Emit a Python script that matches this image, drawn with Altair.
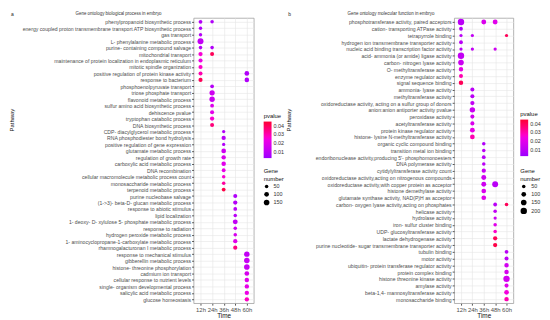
import altair as alt
import pandas as pd

times = ["12h", "24h", "36h", "48h", "60h"]

# ---------------- panel a: biological process ----------------
bp_pathways = [
    "phenylpropanoid biosynthetic process",
    "energy coupled proton transmembrane transport ATP biosynthetic process",
    "gas transport",
    "L- phenylalanine metabolic process",
    "purine- containing compound salvage",
    "mitochondrial transport",
    "maintenance of protein localization in endoplasmic reticulum",
    "mitotic spindle organization",
    "positive regulation of protein kinase activity",
    "response to bacterium",
    "phosphoenolpyruvate transport",
    "triose phosphate transport",
    "flavonoid metabolic process",
    "sulfur amino acid biosynthetic process",
    "dehiscence pvalue",
    "tryptophan catabolic process",
    "DNA biosynthetic process",
    "CDP- diacylglycerol metabolic process",
    "RNA phosphodiester bond hydrolysis",
    "positive regulation of gene expression",
    "glutamate metabolic process",
    "regulation of growth rate",
    "carboxylic acid metabolic process",
    "DNA recombination",
    "cellular macromolecule metabolic process count",
    "monosaccharide metabolic process",
    "terpenoid metabolic process",
    "purine nucleobase salvage",
    "(1->3)- beta-D- glucan metabolic process",
    "response to abiotic stimulus",
    "lipid localization",
    "1- deoxy- D- xylulose 5- phosphate metabolic process",
    "response to radiation",
    "hydrogen peroxide metabolic process",
    "1- aminocyclopropane-1-carboxylate metabolic process",
    "rhamnogalacturonan I metabolic process",
    "response to mechanical stimulus",
    "gibberellin metabolic process",
    "histone- threonine phosphorylation",
    "cadmium ion transport",
    "cellular response to nutrient levels",
    "single- organism developmental process",
    "salicylic acid metabolic process",
    "glucose homeostasis",
]
bp_idx = [0, 0, 1, 2, 3, 4, 4, 5, 5, 6, 7, 8, 8, 9, 9, 10, 11, 12, 13, 14, 15, 16,
          17, 18, 19, 20, 21, 22, 23, 24, 25, 26, 27, 28, 29, 30, 31, 32, 33, 34, 35,
          36, 37, 38, 39, 40, 41, 42, 43]
bp_time = ["12h", "24h", "12h", "12h", "12h", "12h", "24h", "12h", "24h", "12h", "12h",
           "12h", "60h", "12h", "60h", "24h", "24h", "24h", "24h", "24h", "24h", "24h",
           "36h", "36h", "36h", "36h", "36h", "36h", "36h", "36h", "36h", "36h",
           "48h", "48h", "48h", "48h", "48h", "48h", "48h", "48h", "48h",
           "60h", "60h", "60h", "60h", "60h", "60h", "60h", "60h"]
bp_pval = [0.009, 0.008, 0.008, 0.009, 0.012, 0.009, 0.008, 0.026, 0.040, 0.024, 0.027,
           0.030, 0.008, 0.040, 0.008, 0.009, 0.015, 0.014, 0.019, 0.021, 0.026, 0.036,
           0.008, 0.010, 0.008, 0.015, 0.018, 0.020, 0.022, 0.026, 0.032, 0.042,
           0.008, 0.009, 0.010, 0.010, 0.012, 0.015, 0.017, 0.020, 0.035,
           0.012, 0.013, 0.013, 0.017, 0.020, 0.022, 0.024, 0.028]
bp_genes = [60, 50, 45, 45, 170, 50, 50, 80, 70, 75, 75,
            70, 100, 75, 95, 60, 130, 135, 60, 70, 80, 70,
            40, 80, 40, 100, 85, 90, 60, 50, 50, 60,
            70, 80, 60, 50, 110, 50, 50, 80, 75,
            140, 145, 150, 100, 90, 85, 85, 85]

# ---------------- panel b: molecular function ----------------
mf_pathways = [
    "phosphotransferase activity, paired acceptors",
    "cation- transporting ATPase activity",
    "tetrapyrrole binding",
    "hydrogen ion transmembrane transporter activity",
    "nucleic acid binding transcription factor activity",
    "acid- ammonia (or amide) ligase activity",
    "carbon- nitrogen lyase activity",
    "O- methyltransferase activity",
    "enzyme regulator activity",
    "signal sequence binding",
    "ammonia- lyase activity",
    "methyltransferase activity",
    "oxidoreductase activity, acting on a sulfur group of donors",
    "anion:anion antiporter activity pvalue",
    "peroxidase activity",
    "acetyltransferase activity",
    "protein kinase regulator activity",
    "histone- lysine N-methyltransferase activity",
    "organic cyclic compound binding",
    "transition metal ion binding",
    "endoribonuclease activity,producing 5'- phosphomonoesters",
    "DNA polymerase activity",
    "cytidylyltransferase activity count",
    "oxidoreductase activity,acting on nitrogenous compounds",
    "oxidoreductase activity,with copper protein as acceptor",
    "histone demethylase activity",
    "glutamate synthase activity, NAD(P)H as acceptor",
    "carbon- oxygen lyase activity,acting on phosphates",
    "helicase activity",
    "hydrolase activity",
    "iron- sulfur cluster binding",
    "UDP- glucosyltransferase activity",
    "lactate dehydrogenase activity",
    "purine nucleotide- sugar transmembrane transporter activity",
    "tubulin binding",
    "motor activity",
    "ubiquitin- protein transferase regulator activity",
    "protein complex binding",
    "histone threonine kinase activity",
    "amylase activity",
    "beta-1,4- mannosyltransferase activity",
    "monosaccharide binding",
]
mf_idx = [0, 0, 0, 1, 2, 2, 2, 3, 4, 4, 4, 5, 6, 7, 8, 9,
          10, 11, 12, 13, 14, 15, 16, 17,
          18, 19, 20, 21, 22, 23, 24, 24, 25, 26,
          27, 27, 28, 29, 30, 31, 32, 33,
          34, 35, 36, 37, 38, 39, 40, 41]
mf_time = ["12h", "36h", "48h", "12h", "12h", "24h", "60h", "12h", "12h", "24h", "48h",
           "12h", "12h", "12h", "12h", "12h",
           "24h", "24h", "24h", "24h", "24h", "24h", "24h", "24h",
           "36h", "36h", "36h", "36h", "36h", "36h", "36h", "48h", "36h", "36h",
           "48h", "60h", "48h", "48h", "48h", "48h", "48h", "48h",
           "60h", "60h", "60h", "60h", "60h", "60h", "60h", "60h"]
mf_pval = [0.010, 0.018, 0.020, 0.008, 0.010, 0.012, 0.040, 0.010, 0.010, 0.012, 0.015,
           0.012, 0.014, 0.022, 0.030, 0.040,
           0.010, 0.010, 0.012, 0.014, 0.016, 0.018, 0.022, 0.030,
           0.008, 0.010, 0.010, 0.010, 0.013, 0.015, 0.015, 0.010, 0.018, 0.020,
           0.010, 0.040, 0.012, 0.015, 0.020, 0.027, 0.040, 0.042,
           0.010, 0.011, 0.016, 0.017, 0.016, 0.020, 0.025, 0.030]
mf_genes = [200, 110, 110, 60, 40, 40, 40, 60, 40, 40, 40,
            200, 150, 90, 70, 90,
            70, 70, 80, 140, 70, 70, 110, 100,
            50, 50, 60, 50, 80, 110, 110, 170, 100, 100,
            60, 50, 50, 40, 50, 50, 80, 80,
            60, 70, 90, 90, 200, 70, 100, 90]

FONT = "Liberation Sans"
PV_DOMAIN = [0.0035, 0.024, 0.0445]
PV_RANGE = ["#9A00FF", "#EE00E6", "#FF0033"]


def panel(pathways, idx, tm, pv, gn, w, h, legx, legy_c, legy_s, size_vals,
          tag, title, tag_x, title_x, ytx, yty):
    df = pd.DataFrame({
        "Pathway": [pathways[i] for i in idx],
        "Time": tm,
        "pvalue": pv,
        "Gene number": gn,
    })
    pts = alt.Chart(df).mark_circle(opacity=1).encode(
        x=alt.X("Time:N", scale=alt.Scale(domain=times, padding=0.6),
                axis=alt.Axis(title="Time", labelAngle=0, labelFontSize=6,
                              labelColor="#4D4D4D", tickSize=2, tickColor="#555",
                              domain=False, grid=True, gridColor="#E6E6E6",
                              gridWidth=0.6, labelPadding=1, titleFontSize=6.5,
                              titleFontWeight="normal", titlePadding=1,
                              titleColor="#111")),
        y=alt.Y("Pathway:N", scale=alt.Scale(domain=pathways, padding=0.6),
                axis=alt.Axis(title="Pathway", labelFontSize=5.2,
                              labelColor="#4D4D4D", labelLimit=400, tickSize=2,
                              tickColor="#555", domain=False, grid=True,
                              gridColor="#E6E6E6", gridWidth=0.6, labelPadding=1,
                              titleFontSize=6, titleFontWeight="normal",
                              titleColor="#111", titleX=ytx, titleY=yty,
                              titleAngle=-90)),
        color=alt.Color("pvalue:Q",
                        scale=alt.Scale(domain=PV_DOMAIN, range=PV_RANGE),
                        legend=alt.Legend(orient="none", legendX=legx,
                                          legendY=legy_c, title="pvalue",
                                          values=[0.01, 0.02, 0.03, 0.04],
                                          gradientLength=37,
                                          gradientThickness=8,
                                          titleFontSize=6,
                                          titleFontWeight="normal",
                                          labelFontSize=5.5, titlePadding=3,
                                          labelColor="#333", titleColor="#111")),
        size=alt.Size("Gene number:Q",
                      scale=alt.Scale(domain=[0, 200], range=[3, 42]),
                      legend=alt.Legend(orient="none", legendX=legx,
                                        legendY=legy_s, title=["Gene", "number"],
                                        values=size_vals, symbolFillColor="black",
                                        symbolStrokeWidth=0, titleFontSize=6,
                                        titleFontWeight="normal", labelFontSize=5.5,
                                        rowPadding=1, titlePadding=2,
                                        labelColor="#333", titleColor="#111")),
    ).properties(width=w, height=h)

    tag_txt = alt.Chart(pd.DataFrame({"t": [tag]})).mark_text(
        align="left", baseline="middle", fontSize=5, color="#222"
    ).encode(text="t:N", x=alt.value(tag_x), y=alt.value(-4))
    title_txt = alt.Chart(pd.DataFrame({"t": [title]})).mark_text(
        align="center", baseline="middle", fontSize=4.5, color="#333"
    ).encode(text="t:N", x=alt.value(title_x), y=alt.value(-4))
    return alt.layer(pts, tag_txt, title_txt)


left = panel(bp_pathways, bp_idx, bp_time, bp_pval, bp_genes, 61, 289,
             71, 96, 152, [50, 100, 150], "a",
             "Gene ontology biological process in embryo", -185, -76, -181, 103)
right = panel(mf_pathways, mf_idx, mf_time, mf_pval, mf_genes, 60, 289,
              67, 94, 152, [50, 100, 150, 200], "b",
              "Gene ontology molecular function in embryo", -168, -64, -165, 103)

chart = alt.hconcat(left, right, spacing=203, bounds="flush").resolve_scale(
    color="independent", size="independent"
).properties(
    padding={"left": 0, "top": 0, "right": 0, "bottom": 0}
).configure(font=FONT).configure_view(stroke="#A0A0A0", strokeWidth=0.8)

chart.save("out.html", embed_options={"renderer": "svg", "actions": False})
